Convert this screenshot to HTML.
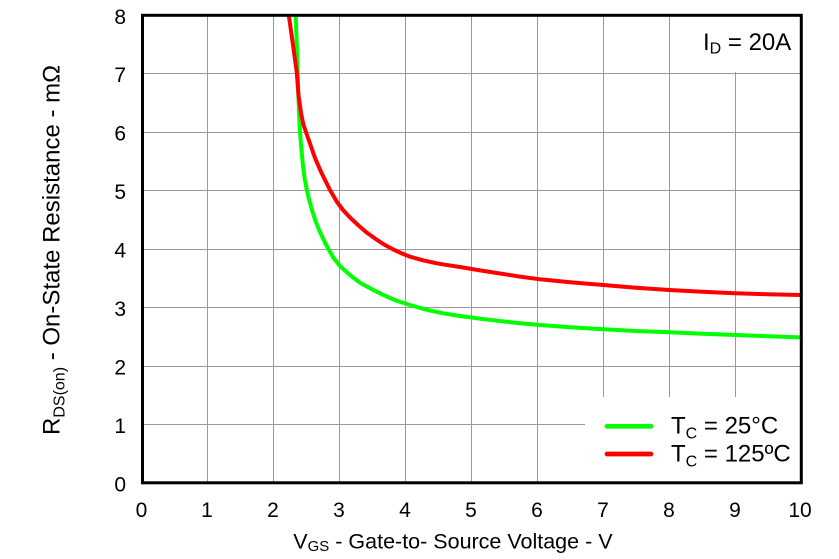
<!DOCTYPE html>
<html>
<head>
<meta charset="utf-8">
<style>
  html, body { margin: 0; padding: 0; background: #fff; }
  svg { display: block; }
  text { font-family: "Liberation Sans", Arial, sans-serif; fill: #000; }
</style>
</head>
<body>
<svg width="839" height="559" viewBox="0 0 839 559" xmlns="http://www.w3.org/2000/svg">
  <defs>
    <clipPath id="plot">
      <rect x="143" y="16" width="657" height="466"/>
    </clipPath>
  </defs>
  <rect x="0" y="0" width="839" height="559" fill="#fff"/>

  <!-- grid -->
  <g stroke="#999" stroke-width="1" shape-rendering="crispEdges">
    <line x1="207.5" y1="15" x2="207.5" y2="483"/>
    <line x1="273.5" y1="15" x2="273.5" y2="483"/>
    <line x1="339.5" y1="15" x2="339.5" y2="483"/>
    <line x1="405.5" y1="15" x2="405.5" y2="483"/>
    <line x1="471.5" y1="15" x2="471.5" y2="483"/>
    <line x1="537.5" y1="15" x2="537.5" y2="483"/>
    <line x1="603.5" y1="15" x2="603.5" y2="483"/>
    <line x1="669.5" y1="15" x2="669.5" y2="483"/>
    <line x1="735.5" y1="15" x2="735.5" y2="483"/>
    <line x1="142" y1="73.5" x2="801" y2="73.5"/>
    <line x1="142" y1="132.5" x2="801" y2="132.5"/>
    <line x1="142" y1="190.5" x2="801" y2="190.5"/>
    <line x1="142" y1="249.5" x2="801" y2="249.5"/>
    <line x1="142" y1="307.5" x2="801" y2="307.5"/>
    <line x1="142" y1="366.5" x2="801" y2="366.5"/>
    <line x1="142" y1="424.5" x2="801" y2="424.5"/>
  </g>

  <!-- ID label background -->
  <rect x="690" y="16" width="110" height="56" fill="#fff"/>
  <!-- legend background -->
  <rect x="585" y="397" width="215" height="85" fill="#fff"/>

  <!-- curves -->
  <g clip-path="url(#plot)" fill="none" stroke-width="4" stroke-linejoin="round" stroke-linecap="butt">
    <polyline stroke="#00ff00" points="295.3,5 295.7,15 297.7,72 298.5,100 299.6,125 300.6,140 301.8,153 303,166 304.6,178 306.6,189 309,199 312,210 315.5,221 320,232 326.7,246 333.3,257.5 340,266 350,275 360,282.8 373.3,290 386.7,296.5 396,300.5 410,305 426.7,309.8 443.3,313.3 460,316 480,318.7 500,321 520,323.2 540,325 570,327.3 603.3,329.3 636,331 669.3,332.3 702,333.7 735,335 768,336.2 802,337.4"/>
    <polyline stroke="#ff0000" points="288.3,5 289,16.7 293,45 296.7,71.7 298.5,95 301,113 303.5,125 307,135 310.5,145 315,158 321.7,173.3 330,190 337,202 343,210 350,217.5 358,225 366,232 375,238.5 384,244.5 393.3,249.5 402,253.5 410,256.7 423,260.3 436.7,263.3 448,265.2 460,267 480,270.4 500,273.5 520,276.6 540,279.3 570,282.3 603.3,285 636,287.7 669.3,290 702,291.8 735,293.3 768,294.3 802,295"/>
  </g>

  <!-- frame -->
  <rect x="142.5" y="15.3" width="658.8" height="467.5" fill="none" stroke="#000" stroke-width="3"/>

  <!-- Y tick labels -->
  <g font-size="21" text-anchor="end">
    <text x="126" y="23.8">8</text>
    <text x="126" y="82.2">7</text>
    <text x="126" y="140.7">6</text>
    <text x="126" y="199.1">5</text>
    <text x="126" y="257.6">4</text>
    <text x="126" y="316">3</text>
    <text x="126" y="374.4">2</text>
    <text x="126" y="432.9">1</text>
    <text x="126" y="491.3">0</text>
  </g>

  <!-- X tick labels -->
  <g font-size="21" text-anchor="middle">
    <text x="141.5" y="517">0</text>
    <text x="207" y="517">1</text>
    <text x="273" y="517">2</text>
    <text x="339" y="517">3</text>
    <text x="405" y="517">4</text>
    <text x="471" y="517">5</text>
    <text x="537" y="517">6</text>
    <text x="603" y="517">7</text>
    <text x="669" y="517">8</text>
    <text x="735" y="517">9</text>
    <text x="800" y="517">10</text>
  </g>

  <!-- X axis title -->
  <text x="293.3" y="548.3" font-size="21.5">V<tspan font-size="15" dy="2.5">GS</tspan><tspan dy="-2.5"> - Gate-to- Source Voltage - V</tspan></text>

  <!-- Y axis title -->
  <text transform="translate(59.5,435) rotate(-90)" font-size="24">R<tspan font-size="16" dy="5">DS(on)</tspan><tspan dy="-5"> - On-State Resistance - mΩ</tspan></text>

  <!-- ID label -->
  <text x="703" y="50" font-size="24">I<tspan font-size="16" dy="3.5">D</tspan><tspan dy="-3.5"> = 20A</tspan></text>

  <!-- legend -->
  <line x1="607" y1="426.3" x2="651" y2="426.3" stroke="#00ff00" stroke-width="4.7" stroke-linecap="round"/>
  <line x1="607" y1="454" x2="651" y2="454" stroke="#ff0000" stroke-width="4.7" stroke-linecap="round"/>
  <text x="671" y="433.3" font-size="24">T<tspan font-size="16" dy="5">C</tspan><tspan dy="-5"> = 25°C</tspan></text>
  <text x="671" y="461.7" font-size="24">T<tspan font-size="16" dy="5">C</tspan><tspan dy="-5"> = 125ºC</tspan></text>
</svg>
</body>
</html>
